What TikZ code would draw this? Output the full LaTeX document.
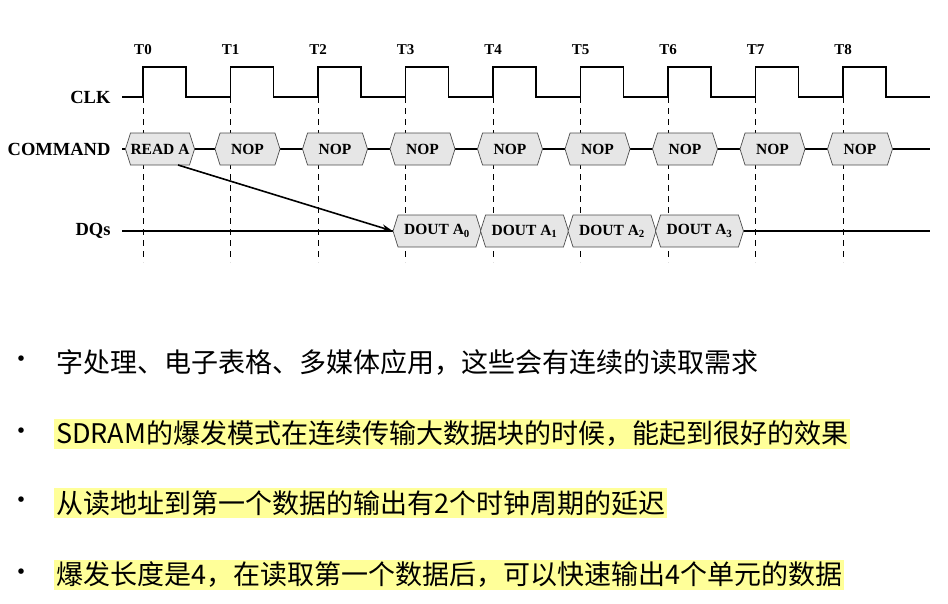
\documentclass[tikz,border=0pt]{standalone}
\usepackage{fontspec}
\setmainfont{Liberation Serif}
\newfontfamily\cjk{Noto Sans CJK SC}
\usetikzlibrary{shapes.symbols,arrows.meta}
\definecolor{hl}{HTML}{FFFF99}
\definecolor{boxg}{HTML}{E6E6E6}
\tikzset{
  sig/.style={line width=1.4pt},
  hexbox/.style={signal, signal to=west and east, signal pointer angle=145, draw=black!70, fill=boxg, line width=0.7pt,
    minimum height=32pt, inner sep=0pt, font=\bfseries\fontsize{15.5}{15.5}\selectfont},
  nopbox/.style={hexbox, minimum width=65pt},
  doutbox/.style={hexbox, minimum width=88pt},
  lbl/.style={font=\bfseries\fontsize{18.5}{18.5}\selectfont, anchor=east},
  tl/.style={font=\bfseries\fontsize{15}{15}\selectfont},
  vdash/.style={dashed, dash pattern=on 6pt off 5pt, line width=0.7pt},
  bul/.style={anchor=west, font=\cjk\fontsize{27}{27}\selectfont, inner sep=2pt},
  bdot/.style={font=\cjk\fontsize{26}{26}\selectfont}
}
\begin{document}
\begin{tikzpicture}[x=1pt,y=-1pt]
\useasboundingbox (0,0) rectangle (948,603);
\foreach \i in {0,...,8}{
  \pgfmathsetmacro{\xx}{143+87.5*\i}
  \draw[vdash] (\xx,97) -- (\xx,262);
  \node[tl] (t\i) at (\xx,50) {T\i};
}
\node[lbl] (clk) at (114,97) {CLK};
\draw[sig] (122,97)
  \foreach \i in {0,...,8}{ -- ({143+87.5*\i},97) -- ({143+87.5*\i},67) -- ({186+87.5*\i},67) -- ({186+87.5*\i},97)} -- (930,97);
\node[lbl] (cmd) at (114,149) {COMMAND};
\draw[sig] (122,149) -- (930,149);
\node[hexbox, minimum width=66pt] (r) at (160,149) {READ A};
\foreach \i in {1,...,8}{
  \node[nopbox] (n\i) at ({160+87.5*\i},149) {NOP};
}
\node[lbl] (dq) at (114,231) {DQs};
\draw[sig] (122,231) -- (930,231);
\foreach \i in {0,...,3}{
  \node[doutbox] (d\i) at ({437+87.5*\i},231) {DOUT A$_{\mathbf{\i}}$};
}
\coordinate (rs) at (178,165);
\draw[line width=1.6pt, -{Stealth[length=11pt,width=7pt]}] (rs) -- (d0.west);
\foreach \y in {362,434,503,575}{ \node[bdot] at (22,\y) {•}; }
\node[bul] (b1) at (54,362) {字处理、电子表格、多媒体应用，这些会有连续的读取需求};
\node[bul, fill=hl] (b2) at (54,434) {SDRAM的爆发模式在连续传输大数据块的时候，能起到很好的效果};
\node[bul, fill=hl] (b3) at (54,503) {从读地址到第一个数据的输出有2个时钟周期的延迟};
\node[bul, fill=hl] (b4) at (54,575) {爆发长度是4，在读取第一个数据后，可以快速输出4个单元的数据};
\end{tikzpicture}
\end{document}
